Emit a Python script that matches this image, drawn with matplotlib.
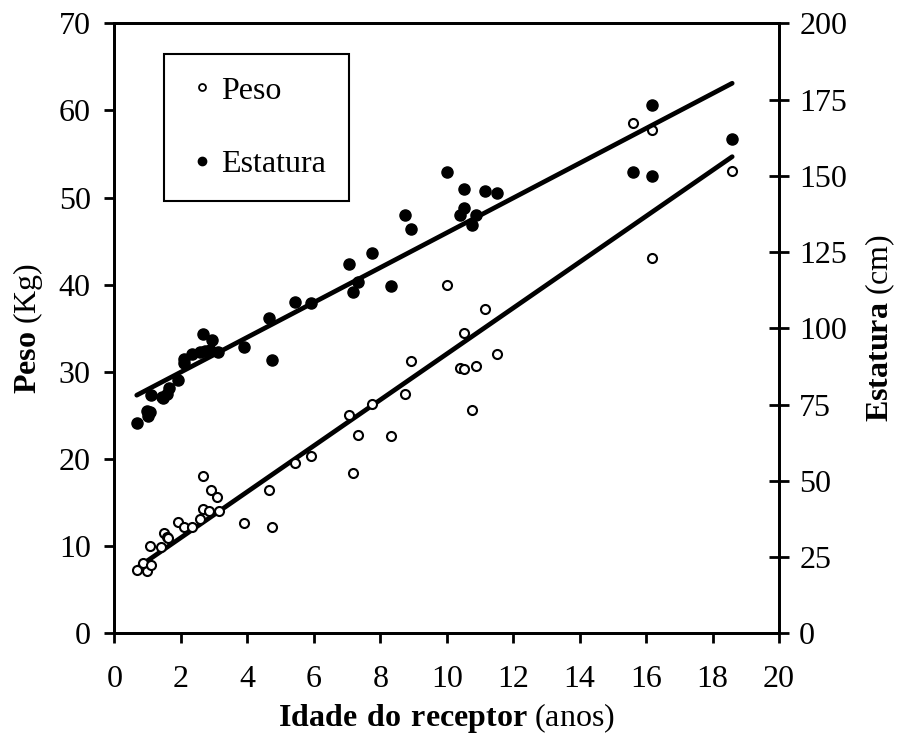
import numpy as np
import matplotlib
matplotlib.use("Agg")
from matplotlib import pyplot as plt
from matplotlib.lines import Line2D

plt.rcParams['font.family'] = ['Liberation Serif', 'DejaVu Serif']
plt.rcParams['mathtext.fontset'] = 'custom'
plt.rcParams['mathtext.rm'] = 'Liberation Serif'
plt.rcParams['mathtext.bf'] = 'Liberation Serif:bold'

# idade (anos) e peso (kg)
idade_peso = [0.67, 0.97, 0.87, 1.09, 1.07, 1.39, 1.49, 1.57, 1.62, 1.90,
              2.09, 2.33, 2.58, 2.66, 2.66, 2.83, 2.91, 3.08, 3.16, 3.91,
              4.73, 4.66, 5.42, 5.91, 7.07, 7.17, 7.33, 7.75, 8.33, 8.75,
              8.92, 10.01, 10.51, 10.41, 10.51, 10.89, 10.76, 11.16, 11.50,
              15.60, 16.18, 16.18, 18.59]
peso = [7.3, 7.2, 8.1, 7.8, 10.0, 9.9, 11.5, 11.1, 10.9, 12.8,
        12.2, 12.2, 13.1, 14.3, 18.1, 14.0, 16.5, 15.6, 14.0, 12.6,
        12.2, 16.5, 19.5, 20.3, 25.1, 18.4, 22.7, 26.3, 22.6, 27.5,
        31.2, 40.0, 34.5, 30.5, 30.3, 30.7, 25.6, 37.2, 32.0,
        58.6, 57.8, 43.1, 53.0]

# idade (anos) e estatura (cm)
idade_est = [0.67, 0.97, 1.07, 1.02, 1.09, 1.42, 1.47, 1.57, 1.65, 1.92,
             2.09, 2.09, 2.33, 2.58, 2.66, 2.73, 2.86, 2.93, 3.13, 3.91,
             4.73, 4.66, 5.42, 5.91, 7.07, 7.17, 7.33, 7.75, 8.33, 8.75,
             8.92, 10.00, 10.51, 10.51, 10.41, 10.89, 10.76, 11.16, 11.50,
             15.60, 16.18, 16.18, 18.59]
estatura = [69.0, 73.0, 72.7, 71.2, 78.1, 77.6, 77.0, 78.5, 80.3, 83.0,
            89.8, 88.7, 91.5, 92.1, 98.1, 92.7, 92.9, 96.2, 92.1, 94.0,
            89.6, 103.3, 108.7, 108.2, 121.1, 112.0, 115.1, 124.6, 113.9, 137.1,
            132.7, 151.1, 145.7, 139.3, 137.1, 137.1, 134.0, 145.0, 144.3,
            151.1, 173.2, 150.0, 162.1]

fig = plt.figure(figsize=(9, 7.4), dpi=100)
ax = fig.add_axes([0.1272, 0.1442, 0.7384, 0.8243])
ax2 = ax.twinx()

# pontos
ax.plot(idade_peso, peso, 'o', ms=6.5, mfc='white', mec='black', mew=1.5,
        zorder=3)
ax2.plot(idade_est, estatura, 'o', ms=8, mfc='black', mec='black', zorder=3)

# retas de regressao
xp = np.array([min(idade_peso), max(idade_peso)])
a, b = np.polyfit(idade_peso, peso, 1)
ax.plot(xp, a * xp + b, color='black', lw=3.4, solid_capstyle='round')

xe = np.array([min(idade_est), max(idade_est)])
c, d = np.polyfit(idade_est, estatura, 1)
ax2.plot(xe, c * xe + d, color='black', lw=3.4, solid_capstyle='round')

ax.set_xlim(0, 20)
ax.set_ylim(0, 70)
ax2.set_ylim(0, 200)
ax.set_xticks(range(0, 21, 2))
ax.set_yticks(range(0, 71, 10))
ax2.set_yticks(range(0, 201, 25))

for a_ in (ax, ax2):
    for s in a_.spines.values():
        s.set_linewidth(2)

ax.tick_params(axis='x', direction='out', length=7, width=2, pad=16,
               labelsize=23)
ax.tick_params(axis='y', direction='out', length=7, width=2, pad=10,
               labelsize=23)
ax2.tick_params(axis='y', direction='inout', length=15, width=2, pad=7,
                labelsize=23)

ax.set_xlabel(r'$\mathbf{Idade\ do\ receptor}$ (anos)', fontsize=23,
              labelpad=5)
ax.set_ylabel(r'$\mathbf{Peso}$ (Kg)', fontsize=23, labelpad=10)
ax2.set_ylabel(r'$\mathbf{Estatura}$ (cm)', fontsize=23, labelpad=12)

handles = [Line2D([], [], ls='none', marker='o', ms=5, mfc='white',
                  mec='black', mew=1.3),
           Line2D([], [], ls='none', marker='o', ms=6, mfc='black',
                  mec='black')]
leg = ax2.legend(handles, ['Peso', 'Estatura'], loc='upper left',
                 bbox_to_anchor=(0.0745, 0.95), fontsize=23, frameon=True,
                 fancybox=False, edgecolor='black', framealpha=1,
                 borderpad=0.7, labelspacing=1.38, handlelength=1.0,
                 handletextpad=0.1, borderaxespad=0)
leg.get_frame().set_linewidth(1.5)

fig.savefig('out.png', dpi=100)
